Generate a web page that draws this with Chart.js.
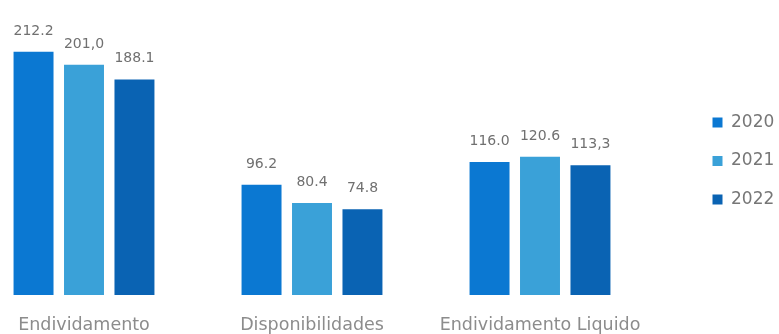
<!DOCTYPE html>
<html>
<head>
<meta charset="utf-8">
<script src="https://cdn.jsdelivr.net/npm/chart.js@4/dist/chart.umd.min.js"></script>
<style>
  html, body { margin: 0; padding: 0; background: #ffffff; }
  #wrap { width: 779px; height: 334px; position: relative; }
</style>
</head>
<body>
<div id="wrap"><canvas id="chart"></canvas></div>
<script>
// Categories and yearly series (R$ bilhões)
const categories = ['Endividamento', 'Disponibilidades', 'Endividamento Liquido'];
const years = ['2020', '2021', '2022'];
const values2020 = [212.2, 96.2, 116.0];
const values2021 = [201.0, 80.4, 120.6];
const values2022 = [188.1, 74.8, 113.3];
// Decimal mark used in each printed value label
const decimalMarks2020 = ['.', '.', '.'];
const decimalMarks2021 = [',', '.', '.'];
const decimalMarks2022 = ['.', '.', ','];

const seriesValues = [values2020, values2021, values2022];
const seriesMarks = [decimalMarks2020, decimalMarks2021, decimalMarks2022];
const barColors = ['#0b78d2', '#3aa1d8', '#0a63b3'];

const FONT = '"DejaVu Sans", sans-serif';

// Value printed above every bar
const valueLabels = {
  id: 'valueLabels',
  afterDatasetsDraw(chart) {
    const ctx = chart.ctx;
    ctx.save();
    ctx.font = '14px ' + FONT;
    ctx.fillStyle = '#707070';
    ctx.textAlign = 'center';
    ctx.textBaseline = 'alphabetic';
    chart.data.datasets.forEach((ds, di) => {
      chart.getDatasetMeta(di).data.forEach((bar, i) => {
        const txt = ds.data[i].toFixed(1).replace('.', seriesMarks[di][i]);
        ctx.fillText(txt, bar.x, bar.y - 17);
      });
    });
    ctx.restore();
  }
};

new Chart(document.getElementById('chart'), {
  type: 'bar',
  data: {
    labels: categories,
    datasets: years.map((y, i) => ({
      label: y,
      data: seriesValues[i],
      backgroundColor: barColors[i],
      borderWidth: 0,
      categoryPercentage: 0.664,
      barPercentage: 0.792,
      clip: false
    }))
  },
  options: {
    responsive: true,
    maintainAspectRatio: false,
    animation: false,
    events: [],
    layout: { padding: { top: 20, bottom: 0, left: 0, right: 0 } },
    scales: {
      x: {
        offset: false,
        grid: { display: false, drawTicks: false },
        border: { display: false },
        ticks: {
          padding: 16,
          maxRotation: 0,
          autoSkip: false,
          color: '#8c8c8c',
          font: { family: FONT, size: 17.5, lineHeight: 1.657 }
        },
        afterFit: s => { s.height = 39; }
      },
      y: {
        position: 'left',
        min: 0,
        max: 240,
        grid: { display: false, drawTicks: false },
        border: { display: false },
        ticks: { display: false },
        afterFit: s => { s.width = 84; }
      },
      gap: {
        type: 'linear',
        position: 'right',
        display: true,
        grid: { display: false, drawTicks: false },
        border: { display: false },
        ticks: { display: false },
        afterFit: s => { s.width = 151; }
      }
    },
    plugins: {
      legend: {
        position: 'right',
        align: 'center',
        fullSize: false,
        maxWidth: 88,
        title: {
          display: true,
          text: '',
          font: { size: 6, lineHeight: 1 },
          padding: { top: 1, bottom: 0 }
        },
        labels: {
          boxWidth: 10,
          boxHeight: 10,
          padding: 21.5,
          color: '#777777',
          font: { family: FONT, size: 17 }
        }
      },
      tooltip: { enabled: false }
    }
  },
  plugins: [valueLabels]
});
</script>
</body>
</html>
